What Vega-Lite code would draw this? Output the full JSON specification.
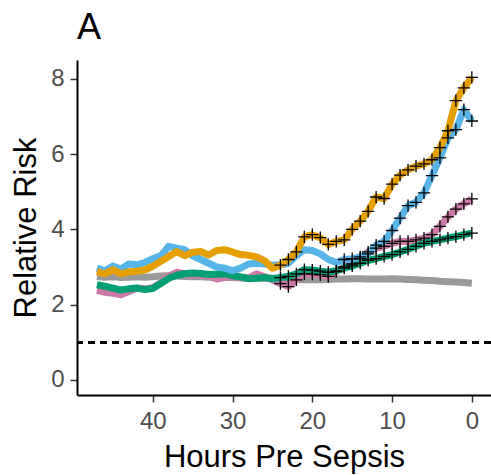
{
  "$schema": "https://vega.github.io/schema/vega-lite/v6.json",
  "width": 414,
  "height": 335,
  "autosize": {"type": "none"},
  "padding": {"left": 77, "top": 60, "right": 0, "bottom": 80},
  "background": "white",
  "config": {
    "view": {"stroke": null},
    "font": "Liberation Sans",
    "axis": {
      "grid": false,
      "domainColor": "black",
      "domainWidth": 2,
      "tickColor": "#333333",
      "tickWidth": 1.5,
      "tickSize": 7,
      "labelColor": "#4D4D4D",
      "labelFont": "Liberation Sans",
      "labelFontSize": 24,
      "titleFont": "Liberation Sans",
      "titleFontSize": 31,
      "titleFontWeight": "normal",
      "titleColor": "black"
    }
  },
  "title": {
    "text": "A",
    "anchor": "start",
    "frame": "group",
    "font": "Liberation Sans",
    "fontSize": 36,
    "fontWeight": "normal",
    "color": "black",
    "baseline": "alphabetic",
    "offset": 16,
    "dy": 31
  },
  "data": {
    "values": [
      {"series": "S1", "hour": 47, "rr": 2.75, "sig": false},
      {"series": "S1", "hour": 46, "rr": 2.73, "sig": false},
      {"series": "S1", "hour": 45, "rr": 2.74, "sig": false},
      {"series": "S1", "hour": 44, "rr": 2.72, "sig": false},
      {"series": "S1", "hour": 43, "rr": 2.73, "sig": false},
      {"series": "S1", "hour": 42, "rr": 2.74, "sig": false},
      {"series": "S1", "hour": 41, "rr": 2.73, "sig": false},
      {"series": "S1", "hour": 40, "rr": 2.74, "sig": false},
      {"series": "S1", "hour": 39, "rr": 2.76, "sig": false},
      {"series": "S1", "hour": 38, "rr": 2.77, "sig": false},
      {"series": "S1", "hour": 37, "rr": 2.76, "sig": false},
      {"series": "S1", "hour": 36, "rr": 2.75, "sig": false},
      {"series": "S1", "hour": 35, "rr": 2.74, "sig": false},
      {"series": "S1", "hour": 34, "rr": 2.74, "sig": false},
      {"series": "S1", "hour": 33, "rr": 2.73, "sig": false},
      {"series": "S1", "hour": 32, "rr": 2.73, "sig": false},
      {"series": "S1", "hour": 31, "rr": 2.72, "sig": false},
      {"series": "S1", "hour": 30, "rr": 2.72, "sig": false},
      {"series": "S1", "hour": 29, "rr": 2.71, "sig": false},
      {"series": "S1", "hour": 28, "rr": 2.71, "sig": false},
      {"series": "S1", "hour": 27, "rr": 2.70, "sig": false},
      {"series": "S1", "hour": 26, "rr": 2.70, "sig": false},
      {"series": "S1", "hour": 25, "rr": 2.70, "sig": false},
      {"series": "S1", "hour": 24, "rr": 2.69, "sig": false},
      {"series": "S1", "hour": 23, "rr": 2.68, "sig": false},
      {"series": "S1", "hour": 22, "rr": 2.67, "sig": false},
      {"series": "S1", "hour": 21, "rr": 2.66, "sig": false},
      {"series": "S1", "hour": 20, "rr": 2.66, "sig": false},
      {"series": "S1", "hour": 19, "rr": 2.66, "sig": false},
      {"series": "S1", "hour": 18, "rr": 2.67, "sig": false},
      {"series": "S1", "hour": 17, "rr": 2.68, "sig": false},
      {"series": "S1", "hour": 16, "rr": 2.68, "sig": false},
      {"series": "S1", "hour": 15, "rr": 2.69, "sig": false},
      {"series": "S1", "hour": 14, "rr": 2.69, "sig": false},
      {"series": "S1", "hour": 13, "rr": 2.68, "sig": false},
      {"series": "S1", "hour": 12, "rr": 2.68, "sig": false},
      {"series": "S1", "hour": 11, "rr": 2.68, "sig": false},
      {"series": "S1", "hour": 10, "rr": 2.69, "sig": false},
      {"series": "S1", "hour": 9, "rr": 2.68, "sig": false},
      {"series": "S1", "hour": 8, "rr": 2.67, "sig": false},
      {"series": "S1", "hour": 7, "rr": 2.66, "sig": false},
      {"series": "S1", "hour": 6, "rr": 2.65, "sig": false},
      {"series": "S1", "hour": 5, "rr": 2.64, "sig": false},
      {"series": "S1", "hour": 4, "rr": 2.62, "sig": false},
      {"series": "S1", "hour": 3, "rr": 2.61, "sig": false},
      {"series": "S1", "hour": 2, "rr": 2.60, "sig": false},
      {"series": "S1", "hour": 1, "rr": 2.59, "sig": false},
      {"series": "S1", "hour": 0, "rr": 2.57, "sig": false},

      {"series": "S2", "hour": 47, "rr": 2.38, "sig": false},
      {"series": "S2", "hour": 46, "rr": 2.33, "sig": false},
      {"series": "S2", "hour": 45, "rr": 2.30, "sig": false},
      {"series": "S2", "hour": 44, "rr": 2.26, "sig": false},
      {"series": "S2", "hour": 43, "rr": 2.35, "sig": false},
      {"series": "S2", "hour": 42, "rr": 2.44, "sig": false},
      {"series": "S2", "hour": 41, "rr": 2.42, "sig": false},
      {"series": "S2", "hour": 40, "rr": 2.45, "sig": false},
      {"series": "S2", "hour": 39, "rr": 2.58, "sig": false},
      {"series": "S2", "hour": 38, "rr": 2.76, "sig": false},
      {"series": "S2", "hour": 37, "rr": 2.86, "sig": false},
      {"series": "S2", "hour": 36, "rr": 2.82, "sig": false},
      {"series": "S2", "hour": 35, "rr": 2.79, "sig": false},
      {"series": "S2", "hour": 34, "rr": 2.78, "sig": false},
      {"series": "S2", "hour": 33, "rr": 2.76, "sig": false},
      {"series": "S2", "hour": 32, "rr": 2.68, "sig": false},
      {"series": "S2", "hour": 31, "rr": 2.72, "sig": false},
      {"series": "S2", "hour": 30, "rr": 2.75, "sig": false},
      {"series": "S2", "hour": 29, "rr": 2.72, "sig": false},
      {"series": "S2", "hour": 28, "rr": 2.70, "sig": false},
      {"series": "S2", "hour": 27, "rr": 2.82, "sig": false},
      {"series": "S2", "hour": 26, "rr": 2.74, "sig": false},
      {"series": "S2", "hour": 25, "rr": 2.66, "sig": false},
      {"series": "S2", "hour": 24, "rr": 2.56, "sig": true},
      {"series": "S2", "hour": 23, "rr": 2.48, "sig": true},
      {"series": "S2", "hour": 22, "rr": 2.66, "sig": true},
      {"series": "S2", "hour": 21, "rr": 2.82, "sig": true},
      {"series": "S2", "hour": 20, "rr": 2.81, "sig": true},
      {"series": "S2", "hour": 19, "rr": 2.79, "sig": true},
      {"series": "S2", "hour": 18, "rr": 2.75, "sig": true},
      {"series": "S2", "hour": 17, "rr": 2.88, "sig": true},
      {"series": "S2", "hour": 16, "rr": 3.00, "sig": true},
      {"series": "S2", "hour": 15, "rr": 3.08, "sig": true},
      {"series": "S2", "hour": 14, "rr": 3.22, "sig": true},
      {"series": "S2", "hour": 13, "rr": 3.40, "sig": true},
      {"series": "S2", "hour": 12, "rr": 3.50, "sig": true},
      {"series": "S2", "hour": 11, "rr": 3.55, "sig": true},
      {"series": "S2", "hour": 10, "rr": 3.63, "sig": true},
      {"series": "S2", "hour": 9, "rr": 3.68, "sig": true},
      {"series": "S2", "hour": 8, "rr": 3.68, "sig": true},
      {"series": "S2", "hour": 7, "rr": 3.72, "sig": true},
      {"series": "S2", "hour": 6, "rr": 3.77, "sig": true},
      {"series": "S2", "hour": 5, "rr": 3.86, "sig": true},
      {"series": "S2", "hour": 4, "rr": 4.08, "sig": true},
      {"series": "S2", "hour": 3, "rr": 4.33, "sig": true},
      {"series": "S2", "hour": 2, "rr": 4.54, "sig": true},
      {"series": "S2", "hour": 1, "rr": 4.68, "sig": true},
      {"series": "S2", "hour": 0, "rr": 4.81, "sig": true},

      {"series": "S3", "hour": 47, "rr": 2.53, "sig": false},
      {"series": "S3", "hour": 46, "rr": 2.49, "sig": false},
      {"series": "S3", "hour": 45, "rr": 2.44, "sig": false},
      {"series": "S3", "hour": 44, "rr": 2.39, "sig": false},
      {"series": "S3", "hour": 43, "rr": 2.42, "sig": false},
      {"series": "S3", "hour": 42, "rr": 2.44, "sig": false},
      {"series": "S3", "hour": 41, "rr": 2.40, "sig": false},
      {"series": "S3", "hour": 40, "rr": 2.43, "sig": false},
      {"series": "S3", "hour": 39, "rr": 2.56, "sig": false},
      {"series": "S3", "hour": 38, "rr": 2.70, "sig": false},
      {"series": "S3", "hour": 37, "rr": 2.78, "sig": false},
      {"series": "S3", "hour": 36, "rr": 2.82, "sig": false},
      {"series": "S3", "hour": 35, "rr": 2.84, "sig": false},
      {"series": "S3", "hour": 34, "rr": 2.83, "sig": false},
      {"series": "S3", "hour": 33, "rr": 2.80, "sig": false},
      {"series": "S3", "hour": 32, "rr": 2.81, "sig": false},
      {"series": "S3", "hour": 31, "rr": 2.82, "sig": false},
      {"series": "S3", "hour": 30, "rr": 2.77, "sig": false},
      {"series": "S3", "hour": 29, "rr": 2.74, "sig": false},
      {"series": "S3", "hour": 28, "rr": 2.69, "sig": false},
      {"series": "S3", "hour": 27, "rr": 2.70, "sig": false},
      {"series": "S3", "hour": 26, "rr": 2.72, "sig": false},
      {"series": "S3", "hour": 25, "rr": 2.69, "sig": false},
      {"series": "S3", "hour": 24, "rr": 2.72, "sig": true},
      {"series": "S3", "hour": 23, "rr": 2.75, "sig": true},
      {"series": "S3", "hour": 22, "rr": 2.82, "sig": true},
      {"series": "S3", "hour": 21, "rr": 2.93, "sig": true},
      {"series": "S3", "hour": 20, "rr": 2.92, "sig": true},
      {"series": "S3", "hour": 19, "rr": 2.89, "sig": true},
      {"series": "S3", "hour": 18, "rr": 2.86, "sig": true},
      {"series": "S3", "hour": 17, "rr": 2.90, "sig": true},
      {"series": "S3", "hour": 16, "rr": 2.97, "sig": true},
      {"series": "S3", "hour": 15, "rr": 3.03, "sig": true},
      {"series": "S3", "hour": 14, "rr": 3.10, "sig": true},
      {"series": "S3", "hour": 13, "rr": 3.18, "sig": true},
      {"series": "S3", "hour": 12, "rr": 3.22, "sig": true},
      {"series": "S3", "hour": 11, "rr": 3.28, "sig": true},
      {"series": "S3", "hour": 10, "rr": 3.33, "sig": true},
      {"series": "S3", "hour": 9, "rr": 3.40, "sig": true},
      {"series": "S3", "hour": 8, "rr": 3.47, "sig": true},
      {"series": "S3", "hour": 7, "rr": 3.55, "sig": true},
      {"series": "S3", "hour": 6, "rr": 3.63, "sig": true},
      {"series": "S3", "hour": 5, "rr": 3.68, "sig": true},
      {"series": "S3", "hour": 4, "rr": 3.72, "sig": true},
      {"series": "S3", "hour": 3, "rr": 3.77, "sig": true},
      {"series": "S3", "hour": 2, "rr": 3.81, "sig": true},
      {"series": "S3", "hour": 1, "rr": 3.86, "sig": true},
      {"series": "S3", "hour": 0, "rr": 3.90, "sig": true},

      {"series": "S4", "hour": 47, "rr": 2.97, "sig": false},
      {"series": "S4", "hour": 46, "rr": 2.90, "sig": false},
      {"series": "S4", "hour": 45, "rr": 3.03, "sig": false},
      {"series": "S4", "hour": 44, "rr": 2.94, "sig": false},
      {"series": "S4", "hour": 43, "rr": 3.08, "sig": false},
      {"series": "S4", "hour": 42, "rr": 3.06, "sig": false},
      {"series": "S4", "hour": 41, "rr": 3.12, "sig": false},
      {"series": "S4", "hour": 40, "rr": 3.22, "sig": false},
      {"series": "S4", "hour": 39, "rr": 3.30, "sig": false},
      {"series": "S4", "hour": 38, "rr": 3.55, "sig": false},
      {"series": "S4", "hour": 37, "rr": 3.50, "sig": false},
      {"series": "S4", "hour": 36, "rr": 3.46, "sig": false},
      {"series": "S4", "hour": 35, "rr": 3.30, "sig": false},
      {"series": "S4", "hour": 34, "rr": 3.20, "sig": false},
      {"series": "S4", "hour": 33, "rr": 3.10, "sig": false},
      {"series": "S4", "hour": 32, "rr": 3.00, "sig": false},
      {"series": "S4", "hour": 31, "rr": 2.97, "sig": false},
      {"series": "S4", "hour": 30, "rr": 2.90, "sig": false},
      {"series": "S4", "hour": 29, "rr": 2.97, "sig": false},
      {"series": "S4", "hour": 28, "rr": 3.08, "sig": false},
      {"series": "S4", "hour": 27, "rr": 3.10, "sig": false},
      {"series": "S4", "hour": 26, "rr": 3.08, "sig": false},
      {"series": "S4", "hour": 25, "rr": 3.05, "sig": false},
      {"series": "S4", "hour": 24, "rr": 3.06, "sig": false},
      {"series": "S4", "hour": 23, "rr": 3.10, "sig": false},
      {"series": "S4", "hour": 22, "rr": 3.30, "sig": false},
      {"series": "S4", "hour": 21, "rr": 3.46, "sig": false},
      {"series": "S4", "hour": 20, "rr": 3.44, "sig": false},
      {"series": "S4", "hour": 19, "rr": 3.35, "sig": false},
      {"series": "S4", "hour": 18, "rr": 3.20, "sig": false},
      {"series": "S4", "hour": 17, "rr": 3.12, "sig": false},
      {"series": "S4", "hour": 16, "rr": 3.20, "sig": true},
      {"series": "S4", "hour": 15, "rr": 3.22, "sig": true},
      {"series": "S4", "hour": 14, "rr": 3.27, "sig": true},
      {"series": "S4", "hour": 13, "rr": 3.35, "sig": true},
      {"series": "S4", "hour": 12, "rr": 3.58, "sig": true},
      {"series": "S4", "hour": 11, "rr": 3.68, "sig": true},
      {"series": "S4", "hour": 10, "rr": 3.97, "sig": true},
      {"series": "S4", "hour": 9, "rr": 4.30, "sig": true},
      {"series": "S4", "hour": 8, "rr": 4.63, "sig": true},
      {"series": "S4", "hour": 7, "rr": 4.72, "sig": true},
      {"series": "S4", "hour": 6, "rr": 4.97, "sig": true},
      {"series": "S4", "hour": 5, "rr": 5.43, "sig": true},
      {"series": "S4", "hour": 4, "rr": 5.90, "sig": true},
      {"series": "S4", "hour": 3, "rr": 6.43, "sig": true},
      {"series": "S4", "hour": 2, "rr": 6.65, "sig": true},
      {"series": "S4", "hour": 1, "rr": 7.18, "sig": true},
      {"series": "S4", "hour": 0, "rr": 6.88, "sig": true},

      {"series": "S5", "hour": 47, "rr": 2.88, "sig": false},
      {"series": "S5", "hour": 46, "rr": 2.82, "sig": false},
      {"series": "S5", "hour": 45, "rr": 2.93, "sig": false},
      {"series": "S5", "hour": 44, "rr": 2.82, "sig": false},
      {"series": "S5", "hour": 43, "rr": 2.87, "sig": false},
      {"series": "S5", "hour": 42, "rr": 2.89, "sig": false},
      {"series": "S5", "hour": 41, "rr": 2.92, "sig": false},
      {"series": "S5", "hour": 40, "rr": 3.02, "sig": false},
      {"series": "S5", "hour": 39, "rr": 3.15, "sig": false},
      {"series": "S5", "hour": 38, "rr": 3.28, "sig": false},
      {"series": "S5", "hour": 37, "rr": 3.41, "sig": false},
      {"series": "S5", "hour": 36, "rr": 3.30, "sig": false},
      {"series": "S5", "hour": 35, "rr": 3.39, "sig": false},
      {"series": "S5", "hour": 34, "rr": 3.41, "sig": false},
      {"series": "S5", "hour": 33, "rr": 3.32, "sig": false},
      {"series": "S5", "hour": 32, "rr": 3.44, "sig": false},
      {"series": "S5", "hour": 31, "rr": 3.46, "sig": false},
      {"series": "S5", "hour": 30, "rr": 3.40, "sig": false},
      {"series": "S5", "hour": 29, "rr": 3.33, "sig": false},
      {"series": "S5", "hour": 28, "rr": 3.31, "sig": false},
      {"series": "S5", "hour": 27, "rr": 3.27, "sig": false},
      {"series": "S5", "hour": 26, "rr": 3.17, "sig": false},
      {"series": "S5", "hour": 25, "rr": 2.97, "sig": false},
      {"series": "S5", "hour": 24, "rr": 3.05, "sig": true},
      {"series": "S5", "hour": 23, "rr": 3.20, "sig": true},
      {"series": "S5", "hour": 22, "rr": 3.40, "sig": true},
      {"series": "S5", "hour": 21, "rr": 3.80, "sig": true},
      {"series": "S5", "hour": 20, "rr": 3.86, "sig": true},
      {"series": "S5", "hour": 19, "rr": 3.78, "sig": true},
      {"series": "S5", "hour": 18, "rr": 3.60, "sig": true},
      {"series": "S5", "hour": 17, "rr": 3.68, "sig": true},
      {"series": "S5", "hour": 16, "rr": 3.72, "sig": true},
      {"series": "S5", "hour": 15, "rr": 4.00, "sig": true},
      {"series": "S5", "hour": 14, "rr": 4.22, "sig": true},
      {"series": "S5", "hour": 13, "rr": 4.48, "sig": true},
      {"series": "S5", "hour": 12, "rr": 4.86, "sig": true},
      {"series": "S5", "hour": 11, "rr": 4.82, "sig": true},
      {"series": "S5", "hour": 10, "rr": 5.20, "sig": true},
      {"series": "S5", "hour": 9, "rr": 5.44, "sig": true},
      {"series": "S5", "hour": 8, "rr": 5.58, "sig": true},
      {"series": "S5", "hour": 7, "rr": 5.68, "sig": true},
      {"series": "S5", "hour": 6, "rr": 5.74, "sig": true},
      {"series": "S5", "hour": 5, "rr": 5.85, "sig": true},
      {"series": "S5", "hour": 4, "rr": 6.17, "sig": true},
      {"series": "S5", "hour": 3, "rr": 6.62, "sig": true},
      {"series": "S5", "hour": 2, "rr": 7.42, "sig": true},
      {"series": "S5", "hour": 1, "rr": 7.76, "sig": true},
      {"series": "S5", "hour": 0, "rr": 8.04, "sig": true}
    ]
  },
  "encoding": {
    "x": {
      "field": "hour",
      "type": "quantitative",
      "scale": {"domain": [49.5, -2.4], "nice": false, "zero": false},
      "axis": {
        "values": [40, 30, 20, 10, 0],
        "title": "Hours Pre Sepsis",
        "labelPadding": 7,
        "titleX": 207,
        "titleY": 71,
        "titleBaseline": "alphabetic",
        "titleAlign": "center"
      }
    },
    "y": {
      "field": "rr",
      "type": "quantitative",
      "scale": {"domain": [-0.4, 8.5], "nice": false, "zero": false},
      "axis": {
        "values": [0, 2, 4, 6, 8],
        "title": "Relative Risk",
        "labelPadding": 6,
        "titleX": -42,
        "titleY": 167.5,
        "titleBaseline": "alphabetic",
        "titleAlign": "center",
        "titleAngle": -90
      }
    }
  },
  "layer": [
    {
      "mark": {"type": "rule", "color": "black", "strokeWidth": 1.7, "strokeDash": [7, 5]},
      "encoding": {"y": {"datum": 1}, "x": null}
    },
    {
      "mark": {"type": "line", "strokeWidth": 7, "strokeJoin": "round", "strokeCap": "butt"},
      "encoding": {
        "color": {
          "field": "series",
          "type": "nominal",
          "scale": {"domain": ["S1", "S2", "S3", "S4", "S5"], "range": ["#999999", "#CC79A7", "#009E73", "#56B4E9", "#E69F00"]},
          "legend": null
        }
      }
    },
    {
      "transform": [{"filter": "datum.sig"}],
      "mark": {"type": "point", "shape": "M-1,0H1M0,-1V1", "filled": false, "stroke": "black", "strokeWidth": 1.3, "size": 150, "opacity": 1}
    }
  ]
}
